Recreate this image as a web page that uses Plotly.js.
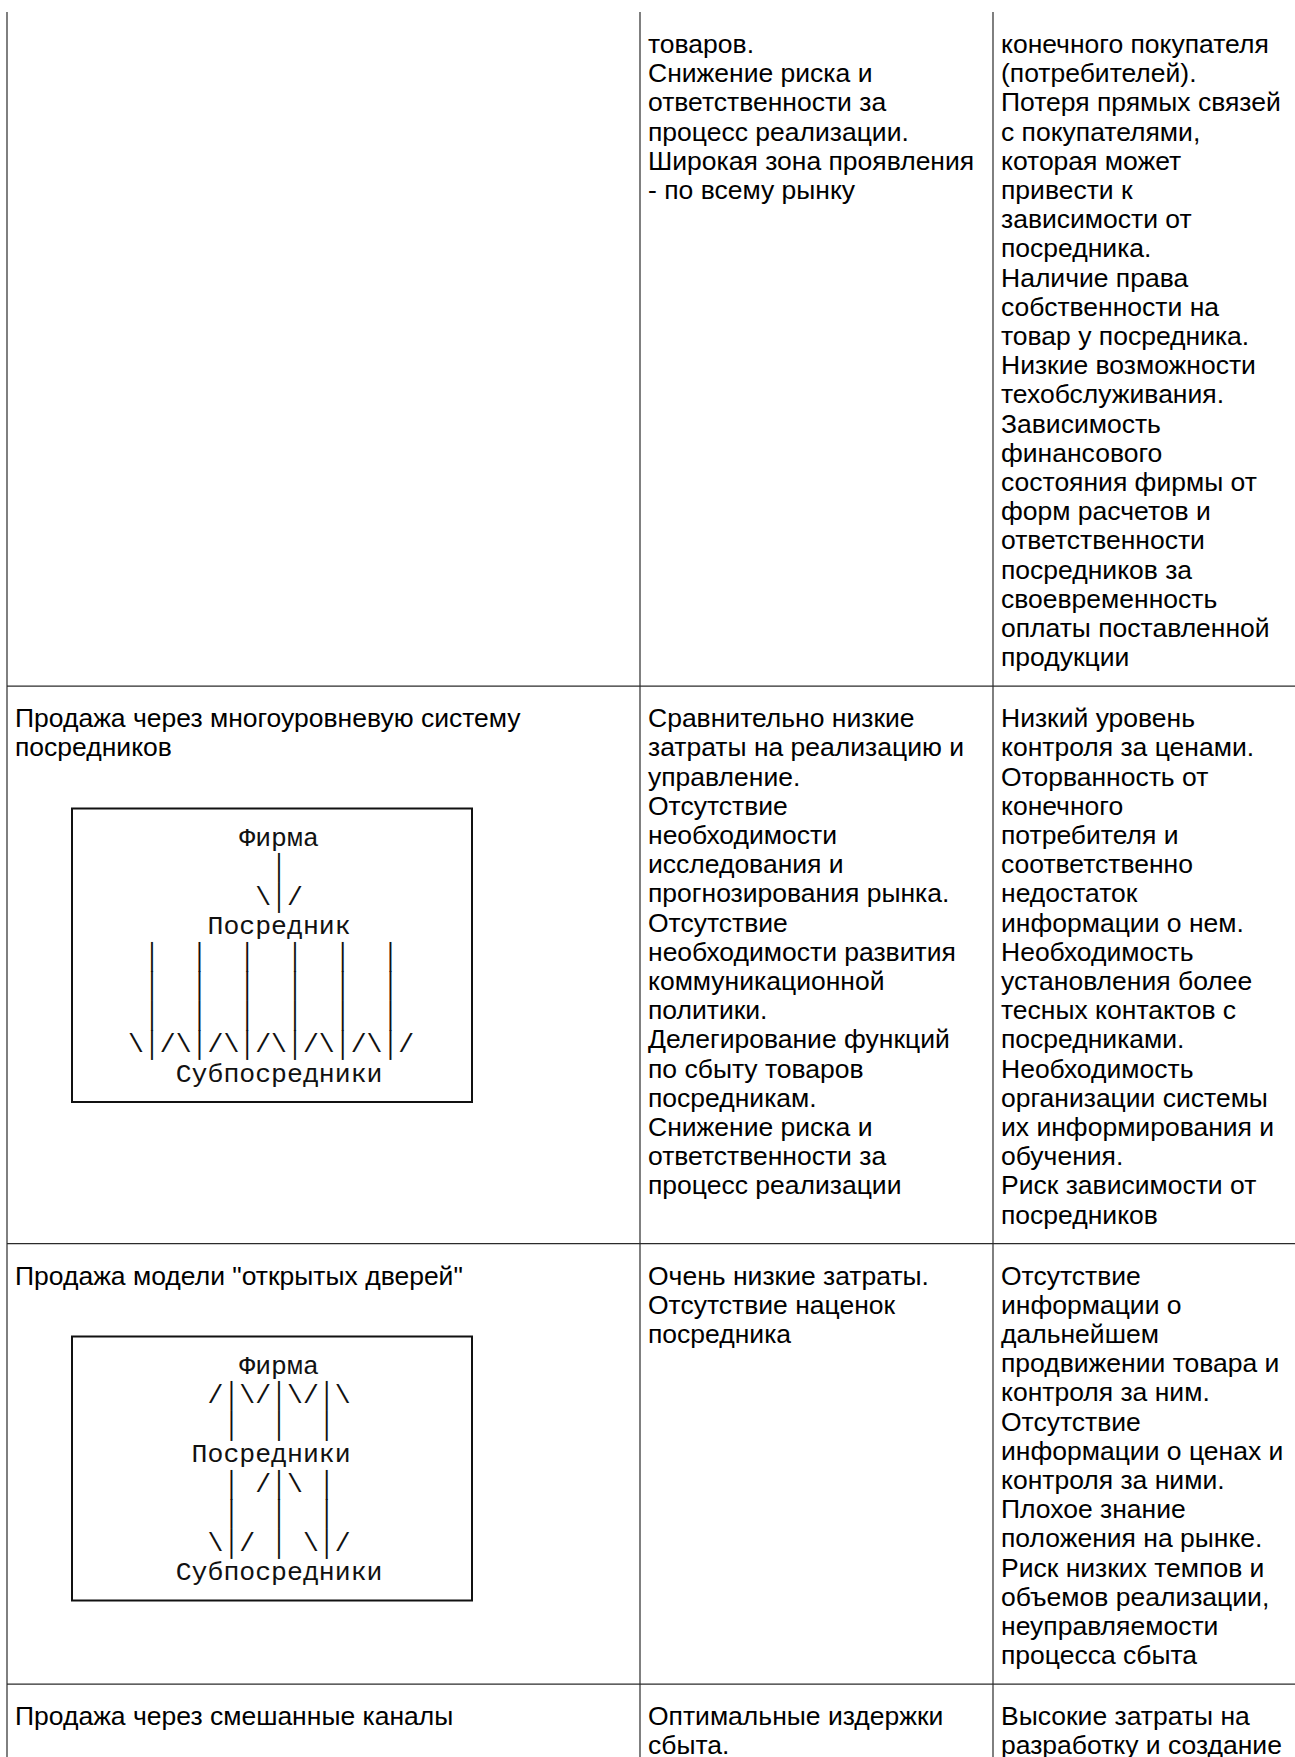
<!DOCTYPE html>
<html>
<head>
<meta charset="utf-8">
<script src="https://cdn.plot.ly/plotly-3.0.1.min.js"></script>
<style>
html,body{margin:0;padding:0;background:#ffffff;}
#chart{width:1295px;height:1757px;}
</style>
</head>
<body>
<div id="chart"></div>
<script>
// ---------- table content ----------
const method1 = [];
const advantages1 = ["товаров.", "Снижение риска и", "ответственности за", "процесс реализации.", "Широкая зона проявления", "- по всему рынку"];
const drawbacks1 = ["конечного покупателя", "(потребителей).", "Потеря прямых связей", "с покупателями,", "которая может", "привести к", "зависимости от", "посредника.", "Наличие права", "собственности на", "товар у посредника.", "Низкие возможности", "техобслуживания.", "Зависимость", "финансового", "состояния фирмы от", "форм расчетов и", "ответственности", "посредников за", "своевременность", "оплаты поставленной", "продукции"];

const method2 = ["Продажа через многоуровневую систему", "посредников"];
const advantages2 = ["Сравнительно низкие", "затраты на реализацию и", "управление.", "Отсутствие", "необходимости", "исследования и", "прогнозирования рынка.", "Отсутствие", "необходимости развития", "коммуникационной", "политики.", "Делегирование функций", "по сбыту товаров", "посредникам.", "Снижение риска и", "ответственности за", "процесс реализации"];
const drawbacks2 = ["Низкий уровень", "контроля за ценами.", "Оторванность от", "конечного", "потребителя и", "соответственно", "недостаток", "информации о нем.", "Необходимость", "установления более", "тесных контактов с", "посредниками.", "Необходимость", "организации системы", "их информирования и", "обучения.", "Риск зависимости от", "посредников"];

const method3 = ["Продажа модели \"открытых дверей\""];
const advantages3 = ["Очень низкие затраты.", "Отсутствие наценок", "посредника"];
const drawbacks3 = ["Отсутствие", "информации о", "дальнейшем", "продвижении товара и", "контроля за ним.", "Отсутствие", "информации о ценах и", "контроля за ними.", "Плохое знание", "положения на рынке.", "Риск низких темпов и", "объемов реализации,", "неуправляемости", "процесса сбыта"];

const method4 = ["Продажа через смешанные каналы"];
const advantages4 = ["Оптимальные издержки", "сбыта."];
const drawbacks4 = ["Высокие затраты на", "разработку и создание"];

// ASCII schemes (monospace), spaces become non-breaking at draw time
const scheme2 = [
  "       Фирма",
  "         │",
  "        \\│/",
  "     Посредник",
  " │  │  │  │  │  │",
  " │  │  │  │  │  │",
  " │  │  │  │  │  │",
  "\\│/\\│/\\│/\\│/\\│/\\│/",
  "   Субпосредники"
];
const scheme3 = [
  "       Фирма",
  "     /│\\/│\\/│\\",
  "      │  │  │",
  "    Посредники",
  "      │ /│\\ │",
  "      │  │  │",
  "     \\│/ │ \\│/",
  "   Субпосредники"
];

// ---------- layout parameters ----------
const W = 1295, H = 1757;
const FS = 26.5, LINE = 29.2;
const MONO_FS = 26.5, MONO_LINE = 29.5;
const colLines = [7, 640, 993];
const PAD = 8;
const FIRST_BASELINE = 53;
const BELOW_LAST = 20, ABOVE_FIRST = 41;
const SCHEME_X = 128, BOX_L = 72, BOX_R = 472;

const rows = [
  {cells: [method1, advantages1, drawbacks1], scheme: null},
  {cells: [method2, advantages2, drawbacks2], scheme: scheme2},
  {cells: [method3, advantages3, drawbacks3], scheme: scheme3},
  {cells: [method4, advantages4, drawbacks4], scheme: null}
];

const tx = [], ty = [], tt = [];
const mx = [], my = [], mt = [];
const shapes = [];
const lineStyle = {color: '#2b2b2b', width: 1.2};

// vertical table lines
colLines.forEach(x => shapes.push({type: 'line', xref: 'x', yref: 'y', x0: x, x1: x, y0: 12, y1: H, line: lineStyle}));

let baseline = FIRST_BASELINE;
rows.forEach((row, ri) => {
  const n = Math.max(...row.cells.map(c => c.length));
  row.cells.forEach((cell, ci) => {
    cell.forEach((s, li) => {
      tx.push(colLines[ci] + PAD);
      ty.push(baseline + li * LINE - 0.25 * FS);
      tt.push(s);
    });
  });
  if (row.scheme) {
    const lastB = baseline + (row.cells[0].length - 1) * LINE;
    const boxTop = lastB + 52;
    const firstC = boxTop + 30;
    row.scheme.forEach((s, li) => {
      mx.push(SCHEME_X);
      my.push(firstC + li * MONO_LINE + 0.7);
      mt.push(s.replace(/ /g, '\u00A0'));
    });
    const boxBottom = firstC + (row.scheme.length - 1) * MONO_LINE + 27.5;
    shapes.push({type: 'rect', xref: 'x', yref: 'y', x0: BOX_L, x1: BOX_R, y0: boxTop, y1: boxBottom,
      line: {color: '#111111', width: 2}, fillcolor: 'rgba(0,0,0,0)'});
  }
  const lastBaseline = baseline + (n - 1) * LINE;
  if (ri < rows.length - 1) {
    const ly = lastBaseline + BELOW_LAST;
    shapes.push({type: 'line', xref: 'x', yref: 'y', x0: colLines[0], x1: W, y0: ly, y1: ly, line: lineStyle});
    baseline = ly + ABOVE_FIRST;
  }
});

const traces = [
  {type: 'scatter', mode: 'text', x: tx, y: ty, text: tt, textposition: 'middle right',
   textfont: {family: 'Liberation Sans, Arial, sans-serif', size: FS, color: '#000000'},
   hoverinfo: 'skip', showlegend: false},
  {type: 'scatter', mode: 'text', x: mx, y: my, text: mt, textposition: 'middle right',
   textfont: {family: 'Liberation Mono, Courier New, monospace', size: MONO_FS, color: '#111111'},
   hoverinfo: 'skip', showlegend: false}
];

const layout = {
  width: W, height: H,
  margin: {l: 0, r: 0, t: 0, b: 0, pad: 0},
  paper_bgcolor: '#ffffff', plot_bgcolor: '#ffffff',
  xaxis: {range: [0, W], visible: false, fixedrange: true},
  yaxis: {range: [H, 0], visible: false, fixedrange: true},
  shapes: shapes,
  showlegend: false
};

Plotly.newPlot('chart', traces, layout, {staticPlot: true, displayModeBar: false});
</script>
</body>
</html>
